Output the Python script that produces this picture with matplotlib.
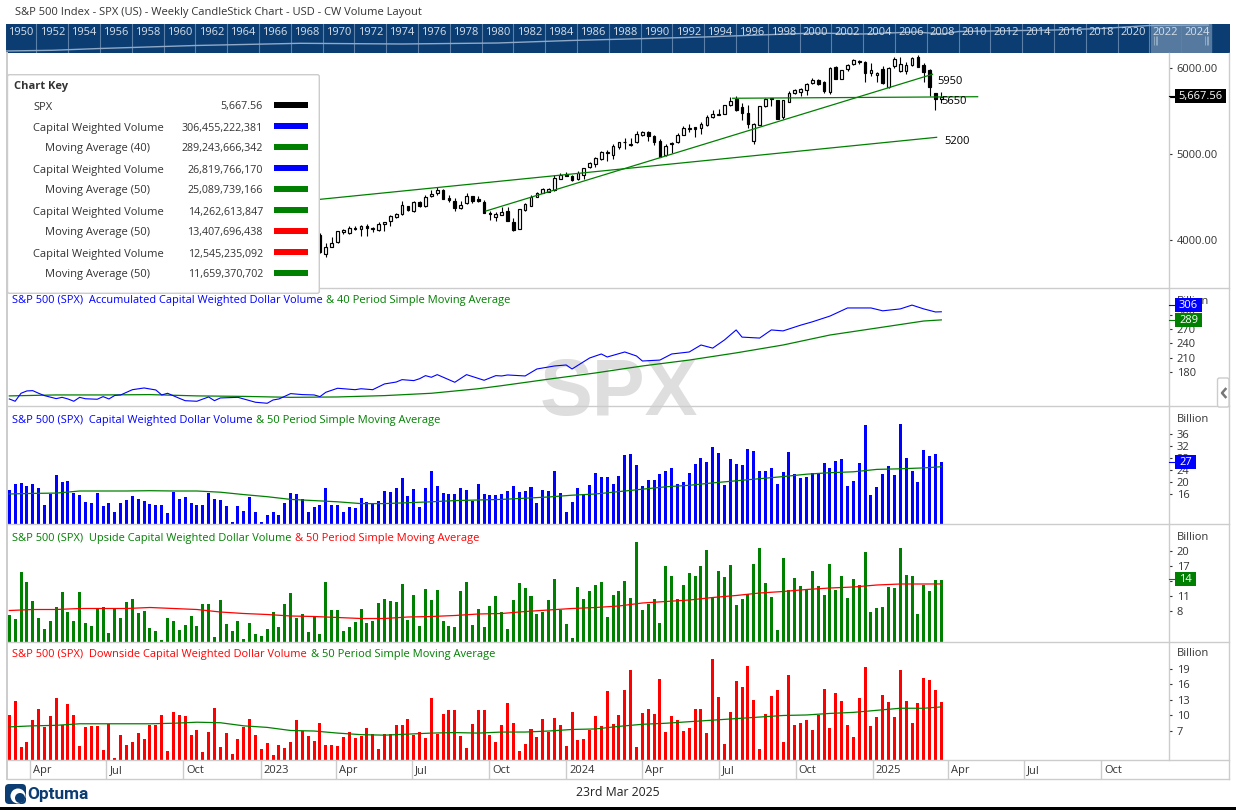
import pandas as pd
import matplotlib
matplotlib.use('Agg')
import matplotlib.pyplot as plt
import matplotlib.dates as mdates
from matplotlib.patches import Rectangle, FancyBboxPatch, Circle

plt.rcParams['font.family'] = ['Open Sans', 'DejaVu Sans']

W, H = 1236, 810
PX_PER_DAY = 0.8374
TEXT = '#333333'
BORDER = '#CCCCCC'
NAVY = '#0B3D72'

# weekly bars, Mar 2022 - Mar 2025
weeks = pd.date_range('2022-03-07', periods=160, freq='7D')

# candles that are not hidden by the key start at this bar
candle_start = 53
candle_open = [
    4058, 3833, 3915, 3981, 4097, 4077, 4143, 4124, 4163, 4132,
    4120, 4182, 4217, 4271, 4298, 4391, 4341, 4446, 4391, 4508,
    4543, 4581, 4485, 4450, 4376, 4426, 4508, 4473, 4438, 4314,
    4271, 4287, 4337, 4205, 4132, 4349, 4399, 4504, 4550, 4562,
    4581, 4713, 4763, 4744, 4705, 4760, 4845, 4888, 4946, 5016,
    4985, 5085, 5136, 5101, 5143, 5217, 5252, 5205, 5147, 4988,
    5124, 5136, 5225, 5287, 5310, 5298, 5333, 5426, 5457, 5469,
    5566, 5639, 5543, 5473, 5147, 5341, 5554, 5647, 5624, 5430,
    5609, 5705, 5725, 5740, 5829, 5857, 5837, 5725, 6008, 5868,
    5992, 6043, 6078, 6066, 5938, 5915, 5988, 5775, 6019, 5969,
    5969, 6039, 6132, 6039, 5977, 5705, 5636]
candle_high = [
    4085, 3961, 4035, 4101, 4132, 4163, 4163, 4174, 4186, 4155,
    4209, 4209, 4291, 4318, 4453, 4399, 4453, 4453, 4523, 4577,
    4612, 4589, 4523, 4485, 4450, 4543, 4515, 4515, 4461, 4337,
    4326, 4384, 4388, 4252, 4364, 4426, 4523, 4562, 4601, 4605,
    4756, 4783, 4791, 4756, 4802, 4837, 4903, 4969, 5031, 5047,
    5112, 5143, 5182, 5182, 5267, 5267, 5267, 5221, 5171, 5112,
    5136, 5240, 5322, 5349, 5310, 5368, 5450, 5512, 5519, 5570,
    5659, 5674, 5589, 5570, 5357, 5562, 5647, 5647, 5624, 5632,
    5736, 5760, 5767, 5829, 5880, 5868, 5849, 6008, 6023, 5973,
    6050, 6101, 6093, 6085, 6062, 5957, 6023, 6008, 6124, 6124,
    6070, 6124, 6151, 6054, 5984, 5713, 5721]
candle_low = [
    3845, 3806, 3915, 3961, 4070, 4070, 4116, 4050, 4050, 4093,
    4108, 4108, 4167, 4260, 4291, 4337, 4329, 4388, 4388, 4504,
    4527, 4477, 4442, 4337, 4360, 4422, 4434, 4438, 4318, 4233,
    4221, 4287, 4221, 4105, 4132, 4341, 4399, 4500, 4543, 4554,
    4574, 4709, 4748, 4686, 4698, 4709, 4837, 4853, 4930, 4922,
    4946, 5062, 5062, 5097, 5132, 5209, 5151, 5108, 4961, 4973,
    5008, 5128, 5217, 5256, 5201, 5233, 5329, 5423, 5457, 5465,
    5562, 5504, 5395, 5306, 5120, 5333, 5550, 5558, 5407, 5407,
    5609, 5698, 5678, 5690, 5814, 5806, 5713, 5702, 5868, 5868,
    5969, 6035, 6043, 5841, 5907, 5841, 5814, 5771, 5996, 5957,
    5934, 6023, 6008, 5841, 5674, 5515, 5597]
candle_close = [
    3857, 3915, 3961, 4101, 4116, 4136, 4132, 4159, 4143, 4139,
    4186, 4209, 4279, 4298, 4403, 4345, 4446, 4395, 4496, 4535,
    4577, 4481, 4465, 4376, 4403, 4508, 4454, 4457, 4318, 4298,
    4298, 4322, 4225, 4116, 4357, 4415, 4504, 4550, 4589, 4597,
    4717, 4756, 4748, 4698, 4775, 4833, 4891, 4950, 5019, 5027,
    5093, 5136, 5143, 5112, 5229, 5252, 5209, 5136, 4969, 5097,
    5112, 5217, 5298, 5298, 5295, 5345, 5426, 5461, 5465, 5566,
    5612, 5512, 5473, 5353, 5345, 5554, 5640, 5636, 5411, 5624,
    5705, 5740, 5752, 5814, 5864, 5818, 5736, 5996, 5876, 5973,
    6031, 6093, 6066, 5938, 5973, 5942, 5822, 5996, 6101, 6043,
    6031, 6112, 6015, 5957, 5779, 5643, 5667.56]

# trend lines on the price panel: bar number and price at both ends
trend_bars = [(53, 158.2), (81.3, 157.5), (123.4, 165.2)]
trend_prices = [(4473, 5194), (4337, 5927), (5648, 5666)]
trend_labels = ['5200', '5950', '5650']

# accumulated capital weighted volume, billions
accum_bars = [
    0, 1, 2, 3, 4, 5, 6, 8, 9, 10, 11, 12, 13, 15, 16, 17, 18, 19, 21, 23,
    25, 26, 27, 29, 30, 32, 34, 35, 36, 39, 42, 44, 45, 46, 48, 50, 52, 53, 54, 56,
    59, 60, 62, 64, 66, 67, 69, 70, 71, 72, 73, 76, 78, 81, 83, 84, 85, 88, 90, 93,
    95, 96, 99, 101, 102, 105, 107, 108, 111, 113, 116, 118, 120, 122, 124, 125, 128, 130, 132, 135,
    137, 140, 143, 147, 149, 152, 154, 156, 158, 159]
accum_volume = [
    123.6, 118.8, 135.5, 140.4, 141, 135.5, 130.6, 124.3, 127, 123.6, 118.8, 127, 124, 123, 128.5, 123.6, 131, 132, 143, 146.6,
    142.4, 132, 135.5, 125, 120, 118.8, 127.8, 120, 125.7, 127, 116.7, 114.6, 121.5, 123.6, 134.8, 132.7, 132, 128.5, 137.6, 146,
    143, 145, 143, 155, 159, 164, 162, 166, 172.4, 169, 174.5, 158.5, 174.5, 162.7, 172.4, 171.7, 173.8, 171.7, 186.3, 192.6,
    194.7, 186.3, 209.3, 217.7, 211.4, 221.9, 213.5, 203, 205, 217.7, 221.9, 236.5, 230, 247, 268, 253, 251, 268, 266, 278,
    285, 297, 314, 314, 308, 312, 320, 312, 305.6, 306]
accum_ma_bars = [0, 8, 16, 24, 32, 40, 48, 56, 64, 72, 80, 84, 92, 100, 108, 116, 124, 132, 140, 148, 156, 159]
accum_ma = [130, 132, 132, 132.7, 130, 129, 127, 127.8, 130.6, 135.5, 145, 151.4, 165, 178, 192.6, 205, 220, 236.5, 257.4, 272, 286.7, 289]

# the 50 period averages were read every fourth bar
ma_bars = list(range(0, 157, 4)) + [159]

total_volume = [
    17.3, 19.3, 19.7, 18.7, 19.3, 18, 12.3, 16, 22.3, 20, 20.3, 16.3, 15.7, 13.3, 13, 16.3, 12, 13, 10, 13,
    14, 15.3, 14.3, 13.7, 12.7, 12.3, 12.3, 9.7, 16.7, 14.3, 15, 13, 12.3, 12.3, 16.3, 14.3, 14, 12, 6.7, 12,
    10.3, 15, 10, 6.7, 9, 10, 9, 13, 16.3, 16, 14.3, 10, 11.7, 12.3, 18, 12.3, 12.3, 10, 11.7, 11.3,
    14.7, 13.3, 12.7, 13.7, 17, 16.7, 18, 21.3, 15.3, 17.7, 11.7, 18, 23.7, 18.7, 16.3, 16, 16, 18, 17.3, 13.7,
    19.3, 16, 15.7, 15.7, 16, 17, 18.7, 16.7, 17, 18.3, 13, 17.3, 17, 23.7, 16.3, 10, 13.3, 18, 15.7, 19,
    23, 21.7, 21.7, 19.3, 22, 29, 29.3, 25.7, 18.7, 20.7, 20.7, 22.7, 23.7, 24.7, 19.3, 20, 23, 26, 28, 26.7,
    31.7, 29.7, 19, 27.7, 26, 25.7, 31, 30.3, 23.7, 23.7, 24.7, 19.3, 23.3, 30, 22.7, 21.3, 21.7, 23, 23, 26.3,
    24.7, 27, 27.7, 18.7, 20.3, 26.3, 39, 15.7, 18.3, 22.7, 25.3, 22.3, 39.3, 28, 23.7, 20, 30.7, 28.7, 29.3, 26.82]
total_ma = [
    16, 16.2, 16.3, 17, 17, 17, 17.1, 17, 17, 16.6, 15.8, 15.1, 14.2, 13.8, 13.4, 12.8, 12.8, 13.1, 13.4, 13.8, 14,
    14.2, 14.6, 15, 15.6, 16, 16.8, 17.6, 18.4, 18.9, 19.7, 20.4, 21.1, 21.8, 22.6, 23.1, 23.4, 24.2, 24.4, 24.7, 25.09]

up_volume = [
    7.2, 6.4, 15.8, 13.8, 10, 6.6, 4.4, 6, 8.8, 11.8, 7.8, 6, 11.8, 5.6, 5, 8.4, 8.8, 3.6, 8.4, 6.6,
    9.8, 10.4, 7.6, 8, 4.6, 4, 2.2, 6.6, 6, 4.2, 5.2, 7, 5, 9.4, 9.4, 2.8, 10.2, 5.4, 4, 6,
    2.4, 5.6, 3.4, 3, 4.4, 7.8, 4.8, 9.4, 11.6, 6.6, 7.4, 3.8, 6.8, 3.4, 13.8, 8.2, 8.2, 4, 4.8, 5.8,
    8.4, 5.6, 6, 9.6, 10.4, 10, 9.8, 13.4, 6.2, 11.2, 5, 12.4, 10.2, 12.2, 6, 5, 4.8, 12, 13.8, 5.2,
    8.4, 4.8, 9, 11, 7.8, 4.4, 10.2, 13.6, 12.6, 11, 7.4, 7.8, 10.2, 14.4, 8.2, 5.4, 2.6, 12.8, 10.4, 12,
    13.2, 13.8, 6.8, 11.2, 12, 14, 10.6, 21.8, 8.2, 9.4, 10.4, 5.6, 17, 15, 10.4, 13.2, 15.6, 15, 17, 20.2,
    10.6, 16, 14.8, 17.2, 9.2, 10.4, 11.4, 17.4, 20.6, 13.6, 10.8, 4.2, 18.6, 12.2, 14.6, 13, 12.4, 16, 13, 11.2,
    17.4, 12.2, 15, 10.6, 14.4, 13.2, 19.8, 7.8, 8.6, 8.8, 12.8, 12.6, 20.6, 15.2, 15, 7.4, 13.2, 12, 14.2, 14.26]
up_ma = [
    8.1, 8.3, 8.3, 8.5, 8.5, 8.5, 8.7, 8.5, 8.3, 7.8, 7.5, 7.3, 7, 6.9, 6.7, 6.5, 6.5, 6.8, 6.9, 7.1, 7.4,
    7.5, 7.9, 8.2, 8.5, 8.7, 9, 9.6, 9.9, 10.2, 10.7, 11.1, 11.6, 11.9, 12.3, 12.6, 12.8, 13.2, 13.4, 13.4, 13.41]

down_volume = [
    10.1, 12.8, 3.9, 4.9, 9.1, 11.3, 7.8, 9.9, 13.4, 8.2, 12.2, 10.1, 4.1, 7.8, 8, 8, 3.3, 8.4, 1.8, 6.2,
    4.3, 4.9, 6.6, 5.5, 8.2, 8.2, 10.1, 3.1, 10.7, 10.1, 9.9, 6.2, 7.2, 2.9, 6.8, 11.5, 3.9, 6.6, 2.6, 5.5,
    7.8, 9.3, 6.2, 3.5, 4.7, 2.4, 4.3, 3.7, 4.9, 9.1, 7, 6.1, 5.1, 8.6, 4.3, 4.3, 4.1, 5.9, 6.8, 5.7,
    6.1, 7.6, 6.4, 3.5, 6.4, 6.4, 8.2, 8.2, 9.3, 6.2, 6.8, 5.7, 13.4, 6.4, 10.3, 11.1, 11.1, 6.1, 3.7, 8.4,
    11.1, 11.1, 6.2, 4.9, 8.2, 12.4, 8.6, 3.1, 4.5, 7.4, 5.9, 9.3, 6.8, 9.5, 8.2, 4.1, 10.7, 5.3, 5.5, 7.2,
    9.9, 8, 14.8, 8.4, 10.1, 14.9, 18.8, 3.9, 10.5, 11.3, 10.3, 17.1, 6.8, 9.9, 9.1, 7, 7.6, 11.3, 11.3, 6.6,
    20.9, 13.6, 4.5, 10.7, 16.7, 15.5, 19.6, 13, 3.5, 10.3, 13.8, 14.9, 4.9, 17.9, 8.2, 8.6, 9.1, 7.2, 10.1, 15.1,
    7.6, 14.4, 12.8, 8.2, 5.9, 13.4, 19.4, 8, 9.7, 14, 12.6, 9.7, 18.8, 12.8, 8.6, 12.4, 17.3, 16.9, 14.9, 12.55]
down_ma = [
    7.8, 8, 8.1, 8.4, 8.4, 8.4, 8.4, 8.5, 8.7, 8.6, 8, 7.7, 7.1, 7, 6.6, 6.3, 6.2, 6.4, 6.6, 6.7, 6.6,
    6.8, 6.8, 7, 7.3, 7.4, 7.9, 8.3, 8.5, 8.8, 9.1, 9.4, 9.7, 10, 10.1, 10.4, 10.6, 11, 11.4, 11.4, 11.66]

# key rows
key_labels = ['SPX', 'Capital Weighted Volume', 'Moving Average (40)', 'Capital Weighted Volume',
              'Moving Average (50)', 'Capital Weighted Volume', 'Moving Average (50)',
              'Capital Weighted Volume', 'Moving Average (50)']
key_values = ['5,667.56', '306,455,222,381', '289,243,666,342', '26,819,766,170', '25,089,739,166',
              '14,262,613,847', '13,407,696,438', '12,545,235,092', '11,659,370,702']
key_colors = ['black', 'blue', 'green', 'blue', 'green', 'green', 'red', 'red', 'green']

# time strip
month_ticks = ['2022-04-01', '2022-07-01', '2022-10-01', '2023-01-01', '2023-04-01', '2023-07-01', '2023-10-01',
               '2024-01-01', '2024-04-01', '2024-07-01', '2024-10-01', '2025-01-01', '2025-04-01', '2025-07-01',
               '2025-10-01']
month_labels = ['Apr', 'Jul', 'Oct', '2023', 'Apr', 'Jul', 'Oct', '2024', 'Apr', 'Jul', 'Oct', '2025', 'Apr', 'Jul',
                'Oct']

# overview bar along the top
overview_years = list(range(1950, 2025, 2))
history_years = [1950, 1953, 1956, 1962, 1968.6, 1975, 1981, 1985.6, 1994, 2001, 2004, 2007.3, 2009, 2010, 2016, 2019,
                 2022, 2025.7]
history_level = [1.5, 2.2, 4, 7, 9.2, 8.5, 9.5, 12, 15.5, 19.5, 18.5, 20.5, 18.5, 21, 22.5, 24, 27, 27.5]

fig = plt.figure(figsize=(W / 100, H / 100), dpi=100)
x0 = mdates.date2num(weeks[0])
dates = mdates.date2num(weeks)


def bar_x(bar):
    return x0 + 7 * bar


def pix_axes(left, top, right, bottom):
    ax = fig.add_axes([left / W, 1 - bottom / H, (right - left) / W, (bottom - top) / H])
    ax.patch.set_visible(False)
    for s in ax.spines.values():
        s.set_visible(False)
    ax.set_xlim(x0 - (9.3 - left) / PX_PER_DAY, x0 + (right - 9.3) / PX_PER_DAY)
    ax.set_xticks([])
    return ax


def panel(top, bottom, ymin, ymax, ticks, labels=None):
    ax = pix_axes(7, top, 1168.7, bottom)
    ax.set_ylim(ymin, ymax)
    ax.yaxis.tick_right()
    ax.set_yticks(ticks)
    ax.set_yticklabels(labels if labels else [str(t) for t in ticks])
    ax.tick_params(axis='y', length=2.4, width=0.8, pad=3.4, labelsize=8, color=TEXT, labelcolor=TEXT)
    return ax


# watermark sits behind every panel
fig.text(619 / W, 1 - 394 / H, 'SPX', ha='center', va='center', fontsize=57, fontweight='bold',
         family='Liberation Sans', color='#DEDEDE', zorder=-1)

# price panel
ax1 = panel(52.5, 287.5, 3448, 6180, [4000, 5000, 6000], ['4000.00', '5000.00', '6000.00'])
for i in range(len(candle_close)):
    x = bar_x(candle_start + i)
    ax1.vlines(x, candle_low[i], candle_high[i], color='black', lw=0.8, zorder=2)
    up = candle_close[i] >= candle_open[i]
    ax1.bar(x, abs(candle_close[i] - candle_open[i]), bottom=min(candle_open[i], candle_close[i]), width=3.2,
            fc='white' if up else 'black', ec='black', lw=0.85, zorder=3)
for bars, prices in zip(trend_bars, trend_prices):
    ax1.plot([bar_x(bars[0]), bar_x(bars[1])], prices, color='green', lw=0.9, zorder=4)
ax1.set_yticks([5667.56], minor=True)
ax1.tick_params(axis='y', which='minor', length=5, width=0.8, color='black', labelright=False)

# accumulated volume panel
ax2 = panel(287.5, 405.7, 109.5, 356.8, [180, 210, 240, 270, 300])
ax2.plot(bar_x(pd.Series(accum_ma_bars)), accum_ma, color='green', lw=0.9)
ax2.plot(bar_x(pd.Series(accum_bars)), accum_volume, color='blue', lw=0.8)

# the three volume panels
ma_x = bar_x(pd.Series(ma_bars))
ax3 = panel(405.7, 524, 6, 45.43, [16, 20, 24, 28, 32, 36])
ax3.bar(dates, total_volume, width=3.6, color='blue')
ax3.plot(ma_x, total_ma, color='green', lw=0.9)

ax4 = panel(524.3, 642, 1.8, 25.34, [8, 11, 14, 17, 20])
ax4.bar(dates, up_volume, width=3.6, color='green')
ax4.plot(ma_x, up_ma, color='red', lw=0.9)

ax5 = panel(642, 760, 1.4, 24.2, [7, 10, 13, 16, 19])
ax5.bar(dates, down_volume, width=3.6, color='red')
ax5.plot(ma_x, down_ma, color='green', lw=0.9)

# time strip below the panels
strip = pix_axes(7, 760, 1229, 779)
strip.set_ylim(0, 1)
strip.set_yticks([])
for tick, label in zip(month_ticks, month_labels):
    t = mdates.date2num(pd.Timestamp(tick))
    strip.axvline(t, color=BORDER, lw=1)
    strip.annotate(label, (t, 0.5), xytext=(2.2, -0.8), textcoords='offset points', va='center', fontsize=8, color=TEXT)

# overview bar
top = fig.add_axes([6 / W, 1 - 52.5 / H, 1224 / W, 28.5 / H], facecolor=NAVY)
for s in top.spines.values():
    s.set_visible(False)
top.set_xlim(1950.09, 2027.07)
top.set_ylim(0, 28.5)
top.set_xticks([])
top.set_yticks([])
top.axvspan(2022.1, 2025.85, color='#55799F')
for yr in overview_years:
    top.axvline(yr, color='#5C80A8', lw=0.8)
    top.text(yr + 1, 20, str(yr), ha='center', va='center', fontsize=8, color='#D5DFEA')
top.plot(history_years, history_level, color='#8FA9C6', lw=1)
for yr in [2022.3, 2022.4, 2022.5, 2025.5, 2025.6, 2025.7]:
    top.vlines(yr, 8, 17, color='#A9BDD2', lw=0.5)

# everything else is placed in pixels on a clear layer on top
ov = fig.add_axes([0, 0, 1, 1])
ov.set_xlim(0, W)
ov.set_ylim(H, 0)
ov.axis('off')
ov.set_zorder(10)

for y in [287.5, 405.7, 524.3, 641.7, 760, 779]:
    ov.plot([7, 1229], [y, y], color=BORDER, lw=1, zorder=1)
ov.plot([7, 7], [52.5, 779], color=BORDER, lw=1.4, zorder=1)
ov.plot([1168.7, 1168.7], [52.5, 760], color=BORDER, lw=1, zorder=1)
ov.plot([1229, 1229], [52.5, 779], color=BORDER, lw=1, zorder=1)

ov.text(15, 13, 'S&P 500 Index - SPX (US) - Weekly CandleStick Chart - USD - CW Volume Layout', va='center',
        fontsize=8.05, color=TEXT)


# two coloured title of a panel
def panel_title(y, first, first_color, second, second_x, second_color):
    ov.text(12, y, first, va='center', fontsize=7.9, color=first_color, zorder=3)
    ov.text(second_x, y, second, va='center', fontsize=8, color=second_color, zorder=3)


panel_title(301, 'S&P 500 (SPX)  Accumulated Capital Weighted Dollar Volume', 'blue',
            '& 40 Period Simple Moving Average', 326, 'green')
panel_title(420, 'S&P 500 (SPX)  Capital Weighted Dollar Volume', 'blue',
            '& 50 Period Simple Moving Average', 256.5, 'green')
panel_title(538, 'S&P 500 (SPX)  Upside Capital Weighted Dollar Volume', 'green',
            '& 50 Period Simple Moving Average', 295, 'red')
panel_title(655, 'S&P 500 (SPX)  Downside Capital Weighted Dollar Volume', 'red',
            '& 50 Period Simple Moving Average', 311, 'green')

for y in [301, 419, 537, 654]:
    ov.text(1177, y, 'Billion', va='center', fontsize=8, color=TEXT, zorder=3)

# trend line labels
for label, x, y in zip(trend_labels, [944, 937, 941], [142, 82, 101]):
    ov.text(x, y, label, va='center', fontsize=8, color='black', zorder=3)


# value box on the price scale
def value_box(y, label, color, width):
    ov.plot([1168.7, 1175], [y, y], color=color, lw=0.8, zorder=4)
    ov.add_patch(Rectangle((1175, y - 7), width, 14, fc=color, ec='none', zorder=5))
    ov.text(1175 + width / 2, y + 0.6, label, ha='center', va='center', fontsize=8, color='white', zorder=6)


value_box(96, '5,667.56', 'black', 51)
value_box(305, '306', 'blue', 27)
value_box(320, '289', 'green', 27)
value_box(462, '27', 'blue', 21)
value_box(579, '14', 'green', 21)

# chart key
ov.add_patch(FancyBboxPatch((7.5, 74.7), 311.8, 218.6, boxstyle='round,pad=0,rounding_size=2', fc='white',
                            ec=BORDER, lw=1, zorder=6))
ov.text(14, 87, 'Chart Key', va='center', fontsize=8, fontweight='bold', color=TEXT, zorder=7)
for i, (label, value, color) in enumerate(zip(key_labels, key_values, key_colors)):
    y = 107 + 21 * i
    ov.text(45 if label.startswith('Moving') else 33, y, label, va='center', fontsize=8, color=TEXT, zorder=7)
    ov.text(263, y, value, va='center', ha='right', fontsize=7.7, color=TEXT, zorder=7)
    ov.add_patch(Rectangle((274, y - 5), 34, 6, fc=color, ec='none', zorder=7))

# collapse button on the right edge
ov.add_patch(FancyBboxPatch((1217.5, 378), 11.5, 29, boxstyle='round,pad=0,rounding_size=2', fc='white', ec=BORDER,
                            lw=1, zorder=6))
ov.plot([1225.5, 1222, 1225.5], [389, 393, 397], color='#777777', lw=1.8, zorder=7)

# logo and date
ov.add_patch(FancyBboxPatch((5, 784), 21, 20, boxstyle='round,pad=0,rounding_size=4', fc=NAVY, ec='none', zorder=3))
ov.add_patch(Circle((18, 796), 7.5, fc='white', ec='none', zorder=4))
ov.add_patch(Circle((20, 798), 5, fc=NAVY, ec='none', zorder=5))
ov.text(27.5, 794.5, 'Optuma', va='center', fontsize=12.4, fontweight='bold', color=NAVY, family='Roboto', zorder=3)
ov.text(618, 793, '23rd Mar 2025', ha='center', va='center', fontsize=8.8, color='#222222', zorder=3)
ov.add_patch(Rectangle((0, 807.3), W, 2.7, fc='black', ec='none', zorder=3))

fig.savefig('out.png', dpi=100)
